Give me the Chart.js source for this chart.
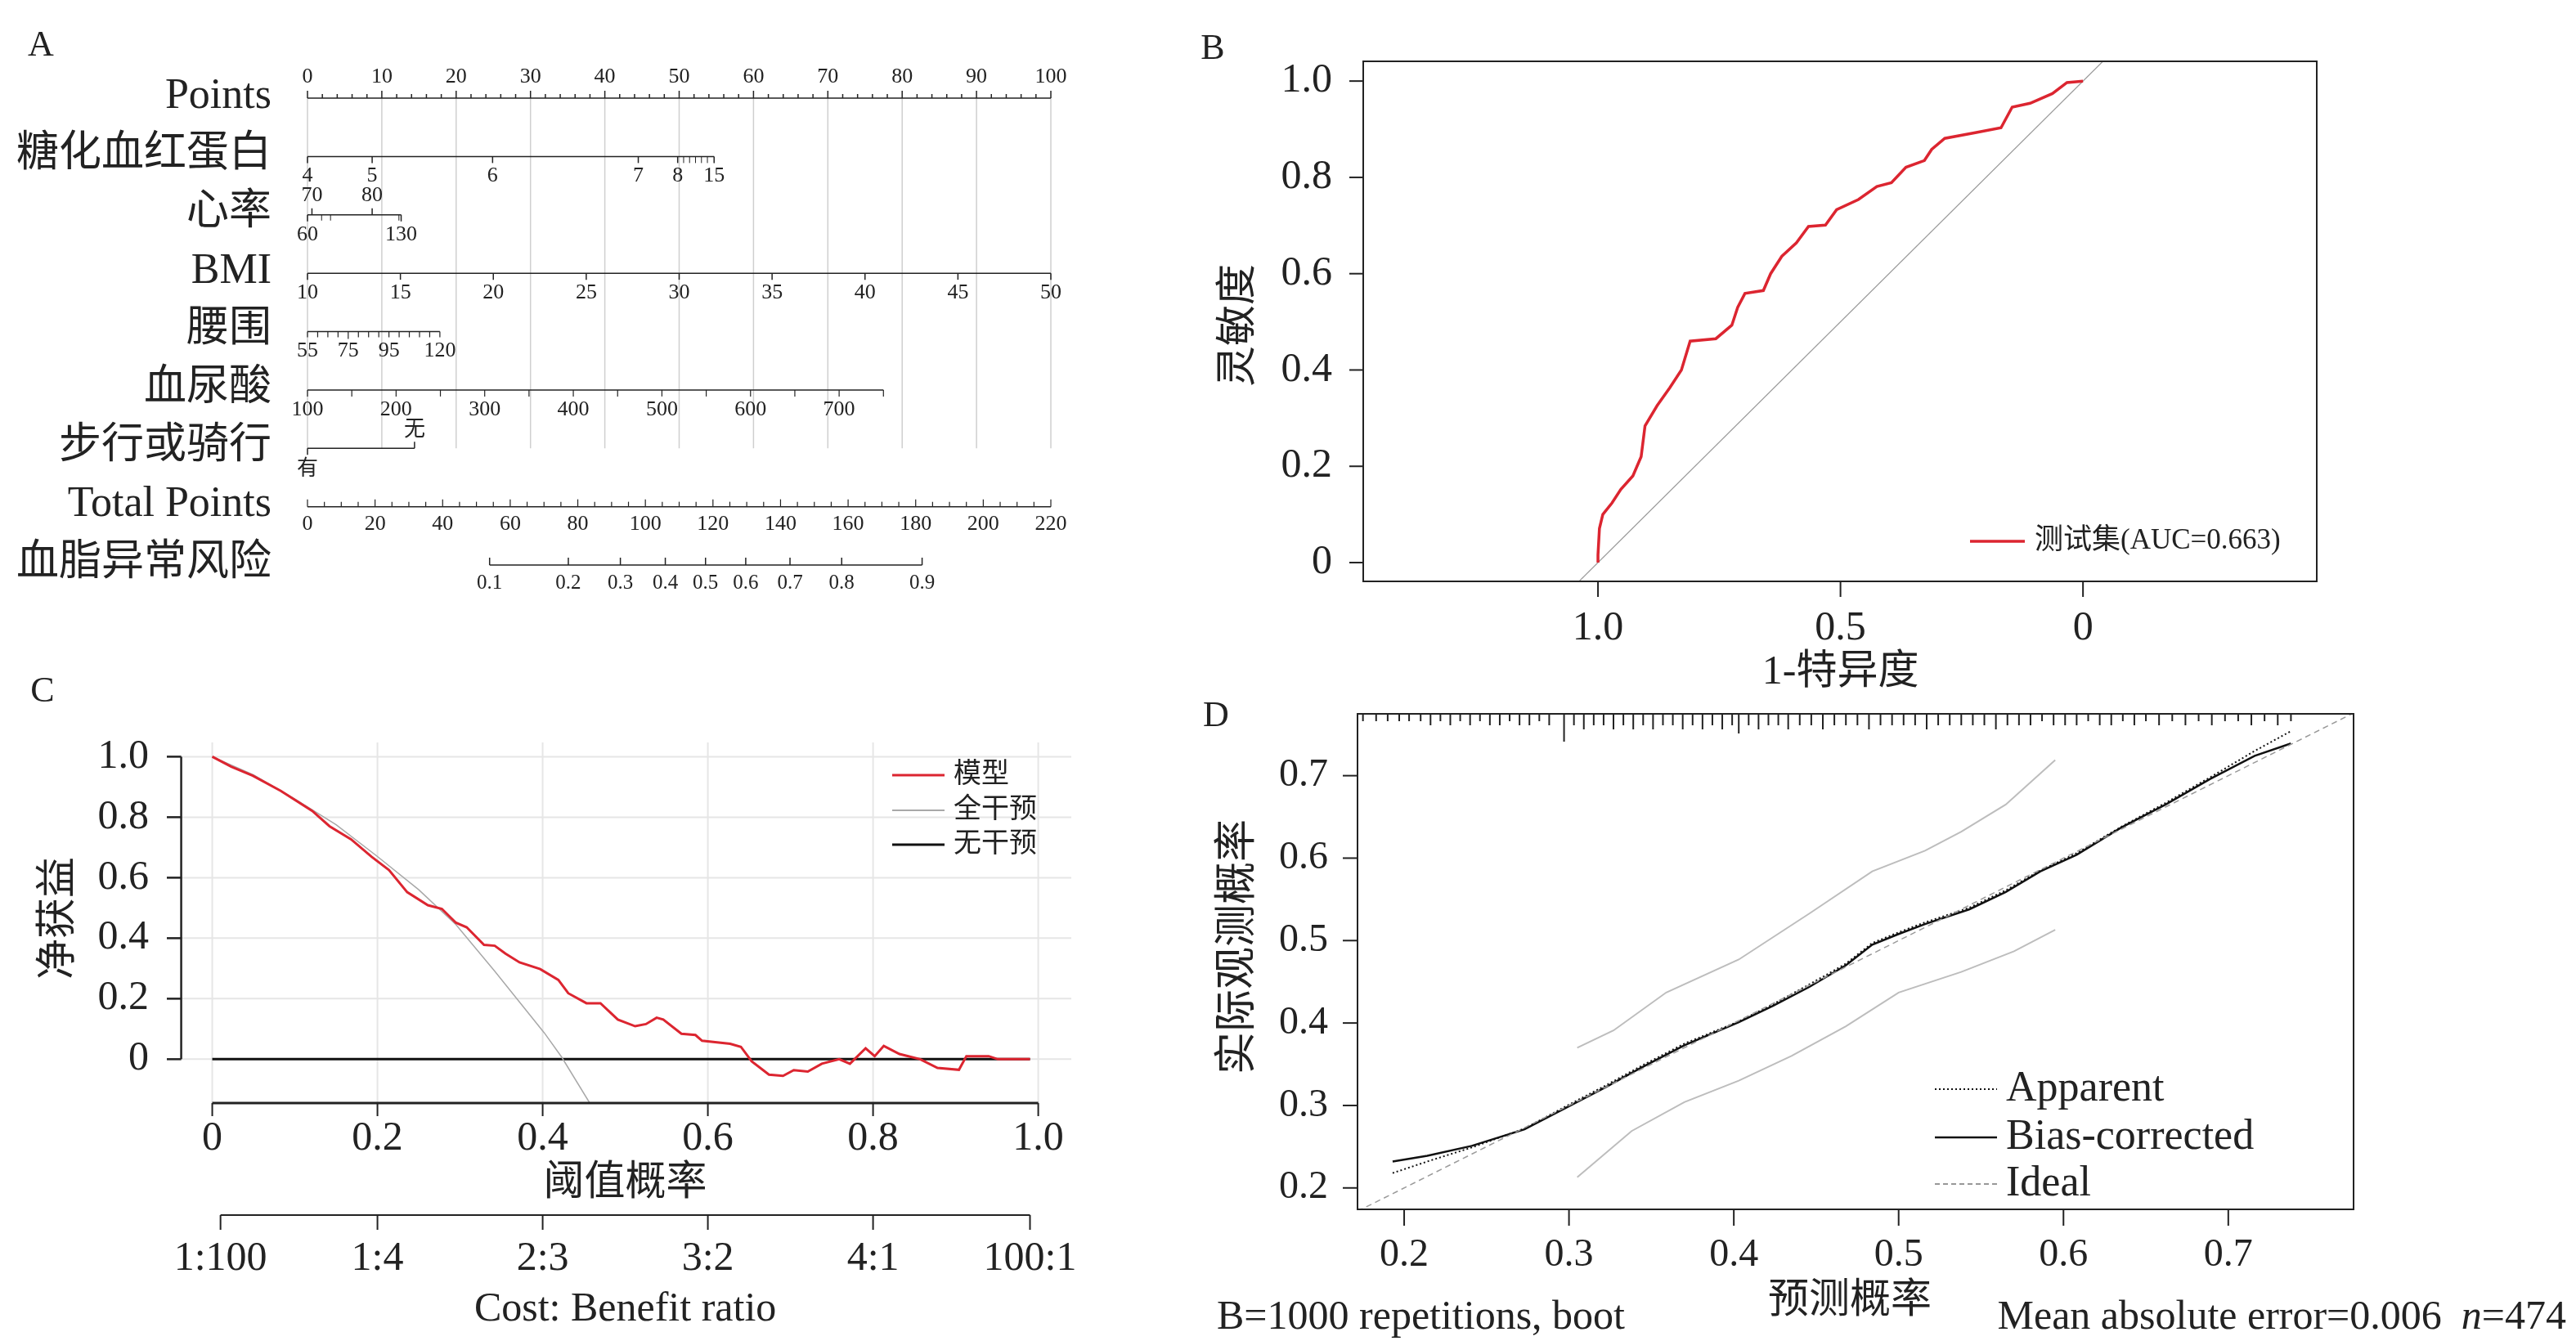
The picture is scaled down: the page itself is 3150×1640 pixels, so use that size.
<!DOCTYPE html>
<html><head><meta charset="utf-8">
<script src="https://cdn.jsdelivr.net/npm/chart.js@4.4.1/dist/chart.umd.min.js"></script>
<style>
body{margin:0;background:#fff;width:3150px;height:1640px;position:relative;overflow:hidden}
canvas{position:absolute}
</style></head><body>
<canvas id="cA" width="1330" height="760" style="left:0;top:0"></canvas>
<canvas id="cB" width="1710" height="850" style="left:1440px;top:0"></canvas>
<canvas id="cC" width="1440" height="840" style="left:0;top:800px"></canvas>
<canvas id="cD" width="1700" height="800" style="left:1450px;top:840px"></canvas>
<script>
// ---------- Panel A: nomogram ----------
const nomoRows = ['Points','糖化血红蛋白','心率','BMI','腰围','血尿酸','步行或骑行','Total Points','血脂异常风险'];
const hbaLabels = ['4','5','6','7','8','15'];
const hbaPoints = [0,8.7,24.9,44.5,49.8,54.7];
const hbaMinorPoints = [50.6,51.4,52.2,53.0,53.8];
const hrTopLabels = ['70','80'];
const hrTopPoints = [0.6,8.7];
const hrBottomLabels = ['60','130'];
const hrBottomPoints = [0,12.6];
const hrMinorPoints = [1.9,3.1,12.3];
const bmiValues = [10,15,20,25,30,35,40,45,50];
const waistTicks = [55,60,65,70,75,80,85,90,95,100,105,110,115,120];
const waistLabels = [55,75,95,120];
const uaTicks = [100,150,200,250,300,350,400,450,500,550,600,650,700,750];
const uaLabels = [100,200,300,400,500,600,700];
const walkLabels = ['有','无'];
const walkPoints = [0,14.4];
const totalLabels = [0,20,40,60,80,100,120,140,160,180,200,220];
const riskLabels = ['0.1','0.2','0.3','0.4','0.5','0.6','0.7','0.8','0.9'];
const riskTotalPoints = [53.9,77.2,92.6,105.9,117.8,129.7,142.8,158.1,181.9];

// ---------- Panel B: ROC ----------
const rocSpec = [1,1,0.997,0.99,0.971,0.953,0.928,0.911,0.903,0.878,0.852,0.828,0.81,0.757,0.724,0.712,0.697,0.659,0.644,0.621,0.591,0.566,0.531,0.508,0.463,0.425,0.395,0.365,0.327,0.312,0.285,0.222,0.169,0.146,0.109,0.063,0.033,0];
const rocSens = [0,0.016,0.071,0.1,0.124,0.152,0.18,0.22,0.284,0.326,0.363,0.4,0.46,0.465,0.493,0.53,0.559,0.565,0.6,0.636,0.664,0.698,0.701,0.733,0.754,0.781,0.789,0.821,0.835,0.858,0.881,0.893,0.903,0.946,0.954,0.974,0.997,1];
const rocTicksX = [1.0,0.5,0];
const rocTickLabelsX = ['1.0','0.5','0'];
const rocTicksY = [0,0.2,0.4,0.6,0.8,1.0];
const rocTickLabelsY = ['0','0.2','0.4','0.6','0.8','1.0'];

// ---------- Panel C: DCA ----------
const dcaT = [0,0.023,0.049,0.083,0.121,0.142,0.168,0.193,0.214,0.236,0.261,0.278,0.295,0.308,0.329,0.342,0.355,0.372,0.397,0.419,0.431,0.453,0.47,0.491,0.512,0.525,0.538,0.546,0.568,0.585,0.593,0.627,0.64,0.653,0.674,0.691,0.704,0.721,0.738,0.759,0.772,0.791,0.802,0.813,0.832,0.857,0.878,0.904,0.913,0.94,0.951,0.99];
const dcaModel = [1,0.967,0.937,0.887,0.821,0.77,0.727,0.669,0.625,0.552,0.509,0.497,0.451,0.436,0.378,0.375,0.349,0.32,0.298,0.262,0.218,0.185,0.185,0.131,0.109,0.116,0.137,0.131,0.084,0.08,0.061,0.051,0.041,-0.007,-0.051,-0.055,-0.036,-0.041,-0.015,0,-0.015,0.036,0.01,0.044,0.017,0,-0.029,-0.035,0.01,0.01,0,0];
const dcaAllT = [0,0.05,0.1,0.15,0.2,0.25,0.295,0.342,0.372,0.402,0.423,0.457];
const dcaAll = [1,0.94,0.86,0.775,0.67,0.56,0.445,0.291,0.189,0.087,0.007,-0.145];
const dcaNoneT = [0,0.99];
const dcaNone = [0,0];
const dcaTicks = [0,0.2,0.4,0.6,0.8,1.0];
const dcaTickLabelsX = ['0','0.2','0.4','0.6','0.8','1.0'];
const dcaTickLabelsY = ['0','0.2','0.4','0.6','0.8','1.0'];
const costT = [0.01,0.2,0.4,0.6,0.8,0.99];
const costLabels = ['1:100','1:4','2:3','3:2','4:1','100:1'];
const dcaLegend = ['模型','全干预','无干预'];

// ---------- Panel D: calibration ----------
const calX = [0.193,0.214,0.241,0.273,0.3,0.322,0.343,0.37,0.403,0.424,0.446,0.468,0.484,0.5,0.516,0.543,0.565,0.586,0.608,0.635,0.662,0.689,0.716,0.738];
const calBias = [0.232,0.239,0.251,0.271,0.299,0.322,0.345,0.373,0.401,0.421,0.444,0.47,0.495,0.508,0.52,0.538,0.559,0.584,0.604,0.637,0.665,0.696,0.724,0.739];
const calApparent = [0.218,0.232,0.249,0.272,0.301,0.324,0.347,0.375,0.402,0.423,0.447,0.472,0.497,0.51,0.522,0.54,0.561,0.585,0.606,0.638,0.667,0.698,0.73,0.754];
const ciX = [0.305,0.327,0.359,0.403,0.446,0.484,0.516,0.538,0.565,0.595];
const ciUpper = [0.37,0.391,0.437,0.477,0.533,0.584,0.609,0.632,0.665,0.719];
const ciLowerX = [0.305,0.338,0.37,0.403,0.435,0.468,0.5,0.538,0.57,0.595];
const ciLower = [0.213,0.269,0.304,0.33,0.36,0.396,0.437,0.462,0.487,0.513];
const rugPred = [0.175,0.183,0.19,0.197,0.203,0.21,0.216,0.222,0.228,0.234,0.24,0.246,0.252,0.258,0.264,0.27,0.276,0.282,0.288,0.297,0.303,0.309,0.315,0.321,0.327,0.333,0.339,0.345,0.351,0.357,0.363,0.369,0.375,0.381,0.387,0.393,0.399,0.403,0.409,0.415,0.421,0.427,0.433,0.44,0.447,0.454,0.461,0.468,0.475,0.482,0.489,0.496,0.503,0.51,0.517,0.524,0.531,0.538,0.545,0.552,0.559,0.566,0.573,0.58,0.587,0.594,0.601,0.608,0.615,0.622,0.629,0.636,0.643,0.65,0.658,0.666,0.674,0.682,0.69,0.698,0.706,0.714,0.722,0.73,0.738];
const rugCount = [1,1,1,1,1,1,2,1,2,1,2,1,2,2,1,2,2,1,2,6,2,3,2,2,3,2,3,2,3,2,2,3,2,3,2,3,2,4,2,3,2,2,3,2,2,3,2,2,2,3,2,2,2,2,3,2,2,2,2,2,3,2,2,2,1,2,2,2,1,2,2,1,2,1,2,1,2,1,2,1,1,2,1,2,1];
const calTicks = [0.2,0.3,0.4,0.5,0.6,0.7];
const calTickLabels = ['0.2','0.3','0.4','0.5','0.6','0.7'];
const calLegend = ['Apparent','Bias-corrected','Ideal'];

// ---------- helpers ----------
const SERIF = '"Liberation Serif","Noto Sans CJK SC",serif';
function txt(ctx,s,x,y,size,align,base,rot,color,style){
  ctx.save();ctx.fillStyle=color||'#222';ctx.font=(style?style+' ':'')+size+'px '+SERIF;
  ctx.textAlign=align||'center';ctx.textBaseline=base||'middle';
  ctx.translate(x,y);if(rot)ctx.rotate(rot);ctx.fillText(s,0,0);ctx.restore();
}
function line(ctx,x1,y1,x2,y2,w,c,dash){ctx.save();ctx.beginPath();ctx.lineWidth=w;ctx.strokeStyle=c||'#222';if(dash)ctx.setLineDash(dash);ctx.moveTo(x1,y1);ctx.lineTo(x2,y2);ctx.stroke();ctx.restore();}
const zip=(xs,ys)=>xs.map((x,i)=>({x:x,y:ys[i]}));
function mk(id,pad,xs,ys,datasets,before,after){
  return new Chart(document.getElementById(id),{
    type:'scatter',
    data:{datasets:datasets},
    options:{responsive:false,animation:false,devicePixelRatio:1,
      layout:{padding:pad},
      plugins:{legend:{display:false},tooltip:{enabled:false}},
      elements:{point:{radius:0}},
      scales:{x:Object.assign({type:'linear',display:false},xs),y:Object.assign({type:'linear',display:false},ys)}},
    plugins:[{id:'p'+id,beforeDatasetsDraw:c=>{if(before)before(c)},afterDraw:c=>{if(after)after(c)}}]
  });
}
const ds=(data,color,w,dash)=>({data:data,showLine:true,borderColor:color,borderWidth:w,borderDash:dash||[],pointRadius:0,fill:false,tension:0});

// ---------- Panel A ----------
mk('cA',{left:376,right:45,top:120,bottom:69},{min:0,max:100},{min:0,max:8,reverse:true},[],null,c=>{
  const ctx=c.ctx,X=v=>c.scales.x.getPixelForValue(v),Y=r=>c.scales.y.getPixelForValue(r);
  const TS=26,K='#222';
  txt(ctx,'A',50,56,44);
  for(let p=0;p<=100;p+=10) line(ctx,X(p),Y(0),X(p),Y(6),1.5,'#cfcfcf');
  nomoRows.forEach((r,i)=>txt(ctx,r,332,Y(i)-2,52,'right'));
  line(ctx,X(0),Y(0),X(100),Y(0),1.5,K);
  for(let p=0;p<=100;p+=2) line(ctx,X(p),Y(0),X(p),Y(0)-(p%10===0?9:5),1.5,K);
  for(let p=0;p<=100;p+=10) txt(ctx,String(p),X(p),Y(0)-26,TS);
  let y=Y(1); line(ctx,X(0),y,X(54.7),y,1.5,K);
  hbaPoints.forEach((p,i)=>{line(ctx,X(p),y,X(p),y+8,1.5,K);txt(ctx,hbaLabels[i],X(p),y+24,TS);});
  hbaMinorPoints.forEach(p=>line(ctx,X(p),y,X(p),y+8,1,K));
  y=Y(2); line(ctx,X(0),y,X(12.6),y,1.5,K);
  hrTopPoints.forEach((p,i)=>{line(ctx,X(p),y,X(p),y-8,1.5,K);txt(ctx,hrTopLabels[i],X(p),y-24,TS);});
  hrBottomPoints.forEach((p,i)=>{line(ctx,X(p),y,X(p),y+8,1.5,K);txt(ctx,hrBottomLabels[i],X(p),y+24,TS);});
  hrMinorPoints.forEach(p=>line(ctx,X(p),y,X(p),y+7,1,K));
  y=Y(3); line(ctx,X(0),y,X(100),y,1.5,K);
  bmiValues.forEach(v=>{const p=(v-10)*2.5;line(ctx,X(p),y,X(p),y+8,1.5,K);txt(ctx,String(v),X(p),y+24,TS);});
  y=Y(4); line(ctx,X(0),y,X((120-55)*0.274),y,1.5,K);
  waistTicks.forEach(v=>{const p=(v-55)*0.274;line(ctx,X(p),y,X(p),y+(v===75?9:7),1.2,K);});
  waistLabels.forEach(v=>txt(ctx,String(v),X((v-55)*0.274),y+24,TS));
  y=Y(5); line(ctx,X(0),y,X((750-100)*0.1192),y,1.5,K);
  uaTicks.forEach(v=>{const p=(v-100)*0.1192;line(ctx,X(p),y,X(p),y+8,1.2,K);});
  uaLabels.forEach(v=>txt(ctx,String(v),X((v-100)*0.1192),y+24,TS));
  y=Y(6); line(ctx,X(0),y,X(14.4),y,1.5,K);
  line(ctx,X(0),y,X(0),y+8,1.5,K); txt(ctx,walkLabels[0],X(walkPoints[0]),y+26,TS);
  line(ctx,X(14.4),y,X(14.4),y-8,1.5,K); txt(ctx,walkLabels[1],X(walkPoints[1]),y-22,TS);
  y=Y(7); line(ctx,X(0),y,X(100),y,1.5,K);
  for(let t=0;t<=220;t+=5) line(ctx,X(t/2.2),y,X(t/2.2),y-(t%20===0?9:6),1.2,K);
  totalLabels.forEach(t=>txt(ctx,String(t),X(t/2.2),y+22,TS));
  y=Y(8); line(ctx,X(riskTotalPoints[0]/2.2),y,X(riskTotalPoints[8]/2.2),y,1.5,K);
  riskTotalPoints.forEach((t,i)=>{line(ctx,X(t/2.2),y,X(t/2.2),y-9,1.5,K);txt(ctx,riskLabels[i],X(t/2.2),y+22,25);});
});

// ---------- Panel B ----------
mk('cB',{left:227,right:317,top:75,bottom:139},{min:-0.482,max:1.484,reverse:true},{min:-0.039,max:1.041},
 [ds(zip(rocSpec,rocSens),'#dc2530',3.5),
  ds(zip([1.039,-0.041],[-0.039,1.041]),'#9a9a9a',1.2)],null,c=>{
  const ctx=c.ctx,a=c.chartArea,X=v=>c.scales.x.getPixelForValue(v),Y=v=>c.scales.y.getPixelForValue(v);
  ctx.save();ctx.lineWidth=2;ctx.strokeStyle='#222';ctx.strokeRect(a.left,a.top,a.width,a.height);ctx.restore();
  rocTicksY.forEach((v,i)=>{line(ctx,a.left-17,Y(v),a.left,Y(v),2);txt(ctx,rocTickLabelsY[i],a.left-38,Y(v),50,'right');});
  rocTicksX.forEach((v,i)=>{line(ctx,X(v),a.bottom,X(v),a.bottom+19,2);txt(ctx,rocTickLabelsX[i],X(v),a.bottom+58,50);});
  txt(ctx,'1-特异度',X(0.5),823,50);
  txt(ctx,'灵敏度',76,398,50,'center','middle',-Math.PI/2);
  txt(ctx,'B',43,60,44);
  line(ctx,969,662,1036,662,3.5,'#dc2530');
  txt(ctx,'测试集(AUC=0.663)',1048,662,35,'left');
});

// ---------- Panel C ----------
mk('cC',{left:204,right:130,top:108,bottom:291},{min:-0.055,max:1.04},{min:-0.145,max:1.047},
 [ds(zip(dcaT,dcaModel),'#dc2530',3),
  ds(zip(dcaAllT,dcaAll),'#a8a8a8',1.5),
  ds(zip(dcaNoneT,dcaNone),'#111',3)],
 c=>{const ctx=c.ctx,a=c.chartArea,X=v=>c.scales.x.getPixelForValue(v),Y=v=>c.scales.y.getPixelForValue(v);
  dcaTicks.forEach(v=>{line(ctx,a.left,Y(v),a.right,Y(v),2,'#e6e6e6');line(ctx,X(v),a.top,X(v),a.bottom,2,'#e6e6e6');});
 },
 c=>{const ctx=c.ctx,a=c.chartArea,X=v=>c.scales.x.getPixelForValue(v),Y=v=>c.scales.y.getPixelForValue(v);
  const ax=X(-0.0376);
  line(ctx,ax,Y(0),ax,Y(1),2.5);
  dcaTicks.forEach((v,i)=>{line(ctx,a.left,Y(v),ax,Y(v),2.5);txt(ctx,dcaTickLabelsY[i],182,Y(v),50,'right');});
  line(ctx,X(0),a.bottom,X(1),a.bottom,3);
  dcaTicks.forEach((v,i)=>{line(ctx,X(v),a.bottom,X(v),a.bottom+16,2);txt(ctx,dcaTickLabelsX[i],X(v),a.bottom+44,50);});
  txt(ctx,'阈值概率',X(0.5),648,50);
  line(ctx,X(costT[0]),686,X(costT[5]),686,2);
  costT.forEach((v,i)=>{line(ctx,X(v),686,X(v),704,2);txt(ctx,costLabels[i],X(v),740,50);});
  txt(ctx,'Cost: Benefit ratio',X(0.5),802,50);
  txt(ctx,'净获益',73,323,50,'center','middle',-Math.PI/2);
  txt(ctx,'C',52,46,44);
  const lc=['#dc2530','#a8a8a8','#111'],lw=[3,2,3];
  [148,191,233].forEach((yy,i)=>{line(ctx,1091,yy,1155,yy,lw[i],lc[i]);txt(ctx,dcaLegend[i],1166,yy,34,'left');});
 });

// ---------- Panel D ----------
mk('cD',{left:210,right:272,top:33,bottom:161},{min:0.1717,max:0.776},{min:0.174,max:0.775},
 [ds(zip([0.1717,0.776],[0.1717,0.776]),'#9a9a9a',1.5,[7,5]),
  ds(zip(ciX,ciUpper),'#bdbdbd',2),
  ds(zip(ciLowerX,ciLower),'#bdbdbd',2),
  ds(zip(calX,calApparent),'#111',2,[2,3]),
  ds(zip(calX,calBias),'#111',2.5)],null,
 c=>{const ctx=c.ctx,a=c.chartArea,X=v=>c.scales.x.getPixelForValue(v),Y=v=>c.scales.y.getPixelForValue(v);
  ctx.save();ctx.lineWidth=2;ctx.strokeStyle='#222';ctx.strokeRect(a.left,a.top,a.width,a.height);ctx.restore();
  rugPred.forEach((v,i)=>line(ctx,X(v),a.top,X(v),a.top+rugCount[i]*5+4,2,'#222'));
  calTicks.forEach((v,i)=>{line(ctx,a.left-18,Y(v),a.left,Y(v),2);txt(ctx,calTickLabels[i],174,Y(v),48,'right');
    line(ctx,X(v),a.bottom,X(v),a.bottom+20,2);txt(ctx,calTickLabels[i],X(v),695,48);});
  txt(ctx,'实际观测概率',65,318,52,'center','middle',-Math.PI/2);
  txt(ctx,'预测概率',812,752,50);
  txt(ctx,'B=1000 repetitions, boot',38,772,50,'left');
  ctx.save();ctx.font='50px '+SERIF;const w1=ctx.measureText('=474').width;ctx.font='italic 50px '+SERIF;const w2=ctx.measureText('n').width;ctx.restore();
  txt(ctx,'=474',1688,772,50,'right');
  txt(ctx,'n',1688-w1,772,50,'right','middle',0,'#222','italic');
  txt(ctx,'Mean absolute error=0.006',1688-w1-w2-24,772,50,'right');
  txt(ctx,'D',37,36,44);
  const st=[[2,[2,3],'#111'],[2.5,null,'#111'],[1.5,[6,4],'#777']];
  [492,551,608].forEach((yy,i)=>{line(ctx,916,yy,992,yy,st[i][0],st[i][2],st[i][1]);txt(ctx,calLegend[i],1003,yy,52,'left');});
 });
</script></body></html>
